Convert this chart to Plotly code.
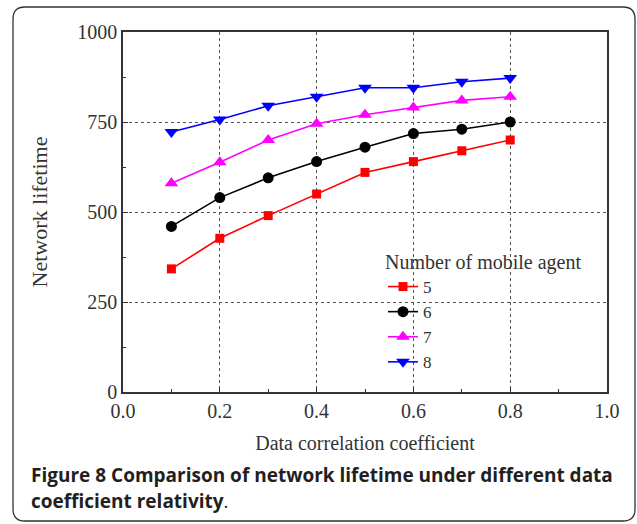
import plotly.graph_objects as go

# Data correlation coefficient (x) and network lifetime per number of mobile agents
corr = [0.1, 0.2, 0.3, 0.4, 0.5, 0.6, 0.7, 0.8]
agents5 = [342, 427, 490, 550, 610, 640, 670, 700]
agents6 = [460, 540, 595, 640, 680, 718, 730, 750]
agents7 = [580, 638, 700, 745, 770, 790, 810, 820]
agents8 = [722, 757, 795, 820, 845, 845, 862, 872]

series_names = ["5", "6", "7", "8"]
series_vals = [agents5, agents6, agents7, agents8]
colors = ["#ff0000", "#000000", "#ff00ff", "#0000ff"]
symbols = ["square", "circle", "triangle-up", "triangle-down"]
msizes = [9, 11, 12, 12]

W, H = 637, 524
L, R, T, B = 123, 607, 32, 392  # plot area in pixels


def px(x):
    return (x - L) / (R - L)


def py(y):
    return (B - y) / (B - T)


fig = go.Figure()
for name, vals, c, s, ms in zip(series_names, series_vals, colors, symbols, msizes):
    fig.add_trace(go.Scatter(
        x=corr, y=vals, name=name, mode="lines+markers",
        line=dict(color=c, width=1.6),
        marker=dict(symbol=s, size=ms, color=c),
    ))

serif = "Liberation Serif"
txt = "#333333"
axis_common = dict(
    showline=True, linecolor=txt, linewidth=1.6, mirror=True,
    ticks="inside", ticklen=5, tickwidth=1.2, tickcolor=txt,
    showgrid=True, gridcolor="#555555", griddash="dot", gridwidth=1,
    zeroline=False,
    tickfont=dict(family=serif, size=20, color=txt),
)

fig.update_xaxes(
    range=[0, 1], dtick=0.2, tickformat=".1f",
    minor=dict(ticks="inside", dtick=0.1, ticklen=3, tickcolor=txt, showgrid=False),
    title=dict(text="Data correlation coefficient", font=dict(family=serif, size=20, color=txt), standoff=15),
    **axis_common,
)
fig.update_yaxes(
    range=[0, 1000], dtick=250,
    minor=dict(ticks="inside", dtick=125, ticklen=3, tickcolor=txt, showgrid=False),
    title=dict(text="Network lifetime", font=dict(family=serif, size=22, color=txt), standoff=24),
    **axis_common,
)

# Rounded outer frame around figure and caption
fl, fr, ft, fb, rad = 13, 635, 7, 521, 12
path = (
    f"M {px(fl)} {py(ft + rad)} "
    f"Q {px(fl)} {py(ft)} {px(fl + rad)} {py(ft)} "
    f"L {px(fr - rad)} {py(ft)} "
    f"Q {px(fr)} {py(ft)} {px(fr)} {py(ft + rad)} "
    f"L {px(fr)} {py(fb - rad)} "
    f"Q {px(fr)} {py(fb)} {px(fr - rad)} {py(fb)} "
    f"L {px(fl + rad)} {py(fb)} "
    f"Q {px(fl)} {py(fb)} {px(fl)} {py(fb - rad)} Z"
)
fig.add_shape(type="path", path=path, xref="paper", yref="paper",
              line=dict(color=txt, width=1.3), layer="below")

cap_font = dict(family="Open Sans", size=19, color="#231f20")
fig.add_annotation(
    x=px(29), y=py(475), xref="paper", yref="paper", xanchor="left", yanchor="middle",
    text="<b>Figure 8 Comparison of network lifetime under different data</b>",
    showarrow=False, font=cap_font,
)
fig.add_annotation(
    x=px(29), y=py(501), xref="paper", yref="paper", xanchor="left", yanchor="middle",
    text="<b>coefficient relativity</b>.",
    showarrow=False, font=cap_font,
)

fig.update_layout(
    width=W, height=H,
    margin=dict(l=L, r=W - R, t=T, b=H - B),
    paper_bgcolor="white", plot_bgcolor="white",
    showlegend=True,
    legend=dict(
        x=px(383), y=py(243), xanchor="left", yanchor="top",
        bgcolor="rgba(0,0,0,0)",
        title=dict(text="Number of mobile agent", font=dict(family=serif, size=20, color=txt)),
        font=dict(family=serif, size=17, color=txt),
        tracegroupgap=0,
    ),
)

fig.write_html("out.html")
